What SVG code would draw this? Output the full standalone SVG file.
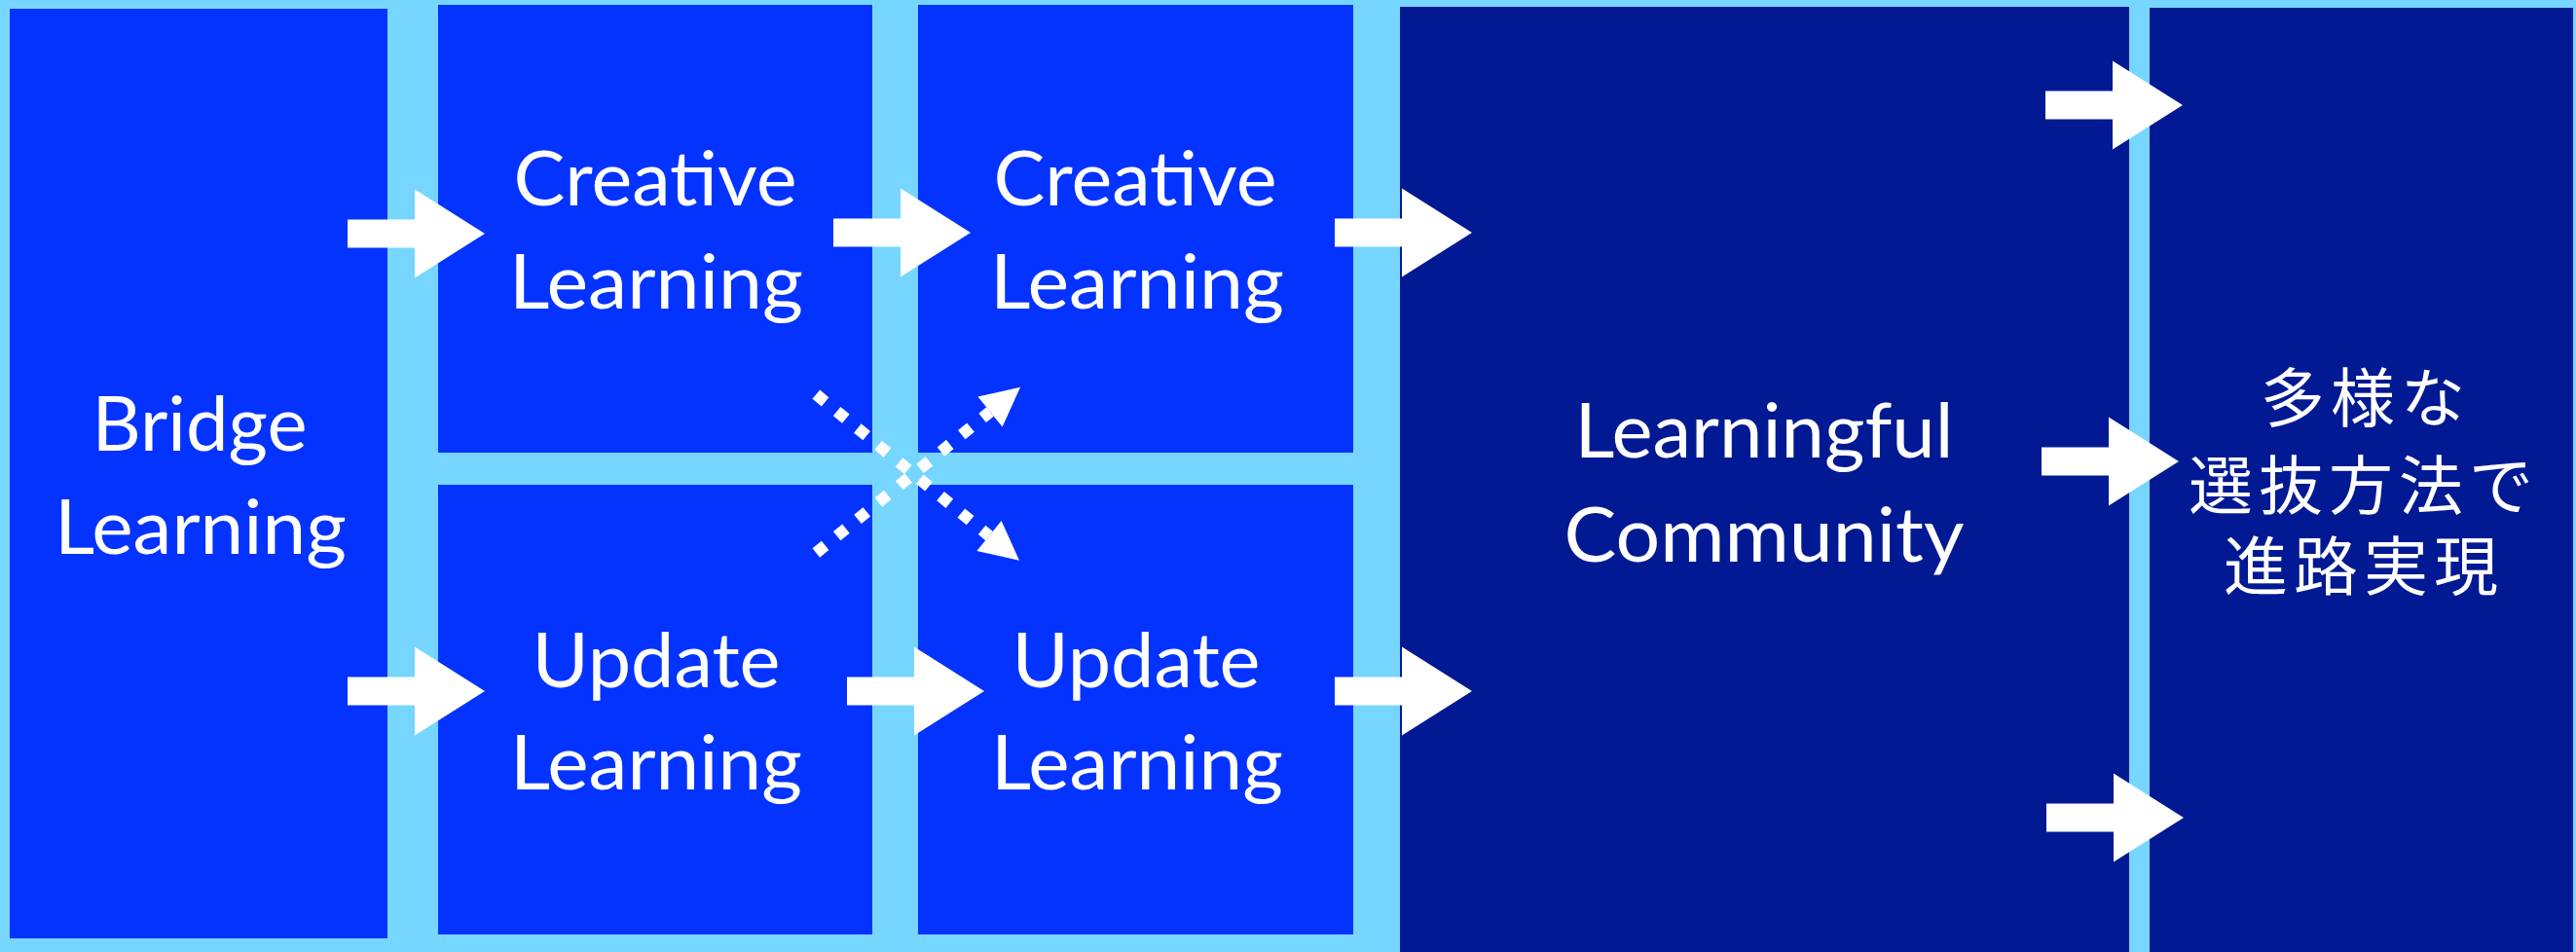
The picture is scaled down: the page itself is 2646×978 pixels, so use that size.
<svg xmlns="http://www.w3.org/2000/svg" xmlns:xlink="http://www.w3.org/1999/xlink" width="2646" height="978" viewBox="0 0 2646 978">
<style>
.bg{fill:#76D6FF}
.blue{fill:#0433FF}
.navy{fill:#011993}
.lbl{font-family:Lato,"Open Sans","Noto Sans",sans-serif;font-size:77px;fill:#FFFFFF;text-anchor:middle}
.jp{font-family:"Noto Sans CJK JP","Noto Sans",sans-serif;font-size:66px;fill:#FFFFFF;text-anchor:middle;letter-spacing:6px}
.blk{fill:#FFFFFF}
.dot{stroke:#FFFFFF;stroke-width:12;stroke-dasharray:12 15.5;fill:none}
</style>
<defs>
<path id="blkArrow" d="M0,-14.5 H69 V-45.5 L141,0 L69,45.5 V14.5 H0 Z"/>
<marker id="tri" markerUnits="userSpaceOnUse" markerWidth="42" markerHeight="42" refX="0" refY="20" orient="auto" viewBox="0 0 42 42" overflow="visible">
<path d="M0,0 L40,20 L0,40 Z" fill="#FFFFFF"/>
</marker>
</defs>
<rect class="bg" x="0" y="0" width="2646" height="978"/>
<g id="bridge">
<rect class="blue" x="10" y="9" width="388" height="955"/>
<text class="lbl" x="205" y="463" textLength="221" lengthAdjust="spacingAndGlyphs">Bridge</text>
<text class="lbl" x="206" y="569" textLength="300" lengthAdjust="spacingAndGlyphs">Learning</text>
</g>
<g id="creative1">
<rect class="blue" x="450" y="5" width="446" height="460"/>
<text class="lbl" x="673" y="211" textLength="291" lengthAdjust="spacingAndGlyphs">Creative</text>
<text class="lbl" x="674" y="317" textLength="302" lengthAdjust="spacingAndGlyphs">Learning</text>
</g>
<g id="creative2">
<rect class="blue" x="943" y="5" width="447" height="460"/>
<text class="lbl" x="1166" y="211" textLength="291" lengthAdjust="spacingAndGlyphs">Creative</text>
<text class="lbl" x="1168" y="317" textLength="302" lengthAdjust="spacingAndGlyphs">Learning</text>
</g>
<g id="update1">
<rect class="blue" x="450" y="498" width="446" height="462"/>
<text class="lbl" x="674" y="706" textLength="255" lengthAdjust="spacingAndGlyphs">Update</text>
<text class="lbl" x="674" y="811" textLength="300" lengthAdjust="spacingAndGlyphs">Learning</text>
</g>
<g id="update2">
<rect class="blue" x="943" y="498" width="447" height="462"/>
<text class="lbl" x="1167" y="706" textLength="255" lengthAdjust="spacingAndGlyphs">Update</text>
<text class="lbl" x="1168" y="811" textLength="300" lengthAdjust="spacingAndGlyphs">Learning</text>
</g>
<g id="community">
<rect class="navy" x="1438" y="7" width="749" height="971"/>
<text class="lbl" x="1812" y="470" textLength="389" lengthAdjust="spacingAndGlyphs">Learningful</text>
<text class="lbl" x="1812" y="577" textLength="411" lengthAdjust="spacingAndGlyphs">Community</text>
</g>
<g id="outcome">
<rect class="navy" x="2208" y="8" width="435" height="970"/>
<text class="jp" x="2430" y="433">多様な</text>
<text class="jp" x="2428" y="523">選抜方法で</text>
<text class="jp" x="2428" y="606">進路実現</text>
</g>
<g id="connectors">
<use class="blk" href="#blkArrow" x="357" y="240"/>
<use class="blk" href="#blkArrow" x="856" y="239"/>
<use class="blk" href="#blkArrow" x="1371" y="239"/>
<use class="blk" href="#blkArrow" x="357" y="710"/>
<use class="blk" href="#blkArrow" x="870" y="710"/>
<use class="blk" href="#blkArrow" x="1371" y="710"/>
<use class="blk" href="#blkArrow" x="2101" y="108"/>
<use class="blk" href="#blkArrow" x="2097" y="474"/>
<use class="blk" href="#blkArrow" x="2102" y="840"/>
<line class="dot" x1="838.3" y1="405.2" x2="1016" y2="550.5" marker-end="url(#tri)"/>
<line class="dot" x1="838.3" y1="568" x2="1017" y2="423" marker-end="url(#tri)"/>
</g>
</svg>
